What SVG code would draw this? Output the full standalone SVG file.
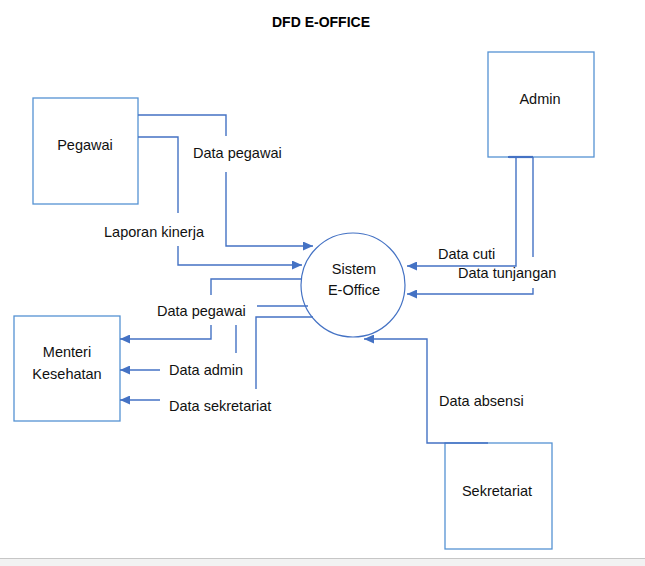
<svg xmlns="http://www.w3.org/2000/svg" width="645" height="566" viewBox="0 0 645 566">
<defs>
<marker id="arr" markerUnits="userSpaceOnUse" markerWidth="11" markerHeight="9" refX="10" refY="4.5" orient="auto">
<path d="M0,0 L10,4.5 L0,9 z" fill="#4472c4"/>
</marker>
<style>
.box{fill:#fff;stroke:#5592d3;stroke-width:1.3}
.proc{fill:#fff;stroke:#4472c4;stroke-width:1.2}
.ln{fill:none;stroke:#4472c4;stroke-width:1.4}
.t{font-family:"Liberation Sans",Arial,sans-serif;font-size:14.5px;fill:#111}
.c{text-anchor:middle}
.title{font-family:"Liberation Sans",Arial,sans-serif;font-size:14px;font-weight:bold;fill:#000;text-anchor:middle}
</style>
</defs>
<rect width="645" height="566" fill="#fff"/>
<rect x="0" y="558" width="645" height="8" fill="#f2f2f2"/>
<line x1="0" y1="558.5" x2="645" y2="558.5" stroke="#c6c6c6" stroke-width="1"/>
<text class="title" x="321" y="27">DFD E-OFFICE</text>

<g id="pegawai">
<rect class="box" x="33" y="98" width="105" height="106"/>
<text class="t c" x="85" y="150">Pegawai</text>
</g>
<g id="admin">
<rect class="box" x="488" y="52" width="106" height="105"/>
<text class="t c" x="540" y="104">Admin</text>
</g>
<g id="menteri">
<rect class="box" x="14" y="316" width="106" height="105"/>
<text class="t c" x="67" y="357">Menteri</text>
<text class="t c" x="67" y="379">Kesehatan</text>
</g>
<g id="sekretariat">
<rect class="box" x="445" y="443" width="107" height="106"/>
<text class="t c" x="497" y="496">Sekretariat</text>
</g>
<g id="sistem">
<circle class="proc" cx="353" cy="285" r="52"/>
<text class="t c" x="354" y="274">Sistem</text>
<text class="t c" x="354" y="295">E-Office</text>
</g>

<g id="connectors">
<g id="c-data-pegawai-in">
<path class="ln" d="M138,115 H226 V136"/>
<path class="ln" d="M226,172 V246 H313" marker-end="url(#arr)"/>
<text class="t" x="193" y="158">Data pegawai</text>
</g>
<g id="c-laporan-kinerja">
<path class="ln" d="M138,137 H178 V213"/>
<path class="ln" d="M178,246 V265 H302" marker-end="url(#arr)"/>
<text class="t" x="104" y="237">Laporan kinerja</text>
</g>
<g id="c-data-pegawai-out">
<path class="ln" d="M302,279 H211 V295"/>
<path class="ln" d="M211,325 V339 H120" marker-end="url(#arr)"/>
<text class="t" x="157" y="316">Data pegawai</text>
</g>
<g id="c-data-admin">
<path class="ln" d="M308,306 H257"/>
<path class="ln" d="M236,325 V353"/>
<path class="ln" d="M160,370 H120" marker-end="url(#arr)"/>
<text class="t" x="169" y="375">Data admin</text>
</g>
<g id="c-data-sekretariat">
<path class="ln" d="M313,317 H256 V389"/>
<path class="ln" d="M160,400 H120" marker-end="url(#arr)"/>
<text class="t" x="169" y="411">Data sekretariat</text>
</g>
<g id="c-data-cuti">
<path class="ln" d="M516,157 V266 H407" marker-end="url(#arr)"/>
<text class="t" x="438" y="259">Data cuti</text>
</g>
<g id="c-data-tunjangan">
<path class="ln" d="M533,157 V257"/>
<path class="ln" d="M533,288 V294 H407" marker-end="url(#arr)"/>
<text class="t" x="458" y="278">Data tunjangan</text>
<line x1="508" y1="157" x2="533" y2="157" stroke="#4472c4" stroke-width="2.2"/>
</g>
<g id="c-data-absensi">
<path class="ln" d="M488,443 H427 V339 H364" marker-end="url(#arr)"/>
<text class="t" x="439" y="406">Data absensi</text>
</g>
</g>
</svg>
